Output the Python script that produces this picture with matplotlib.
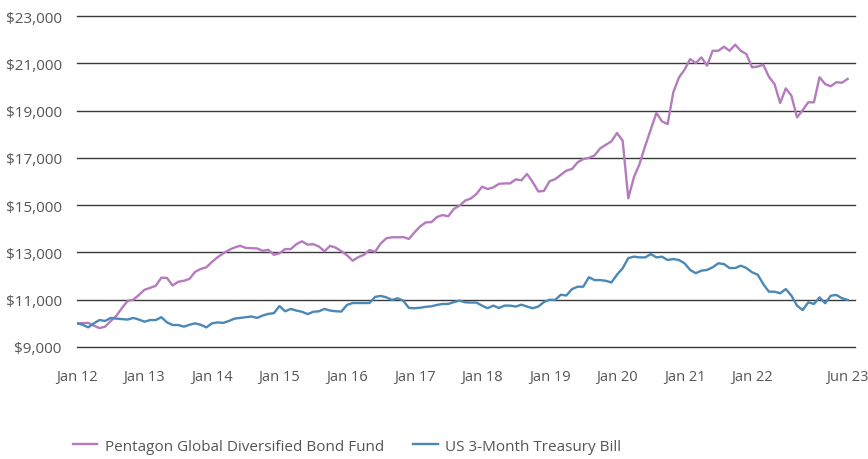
"""Growth of $10,000: Pentagon Global Diversified Bond Fund vs US 3-Month Treasury Bill."""
import numpy as np
import pandas as pd

import matplotlib
matplotlib.use("Agg")
import matplotlib.pyplot as plt  # noqa: E402

plt.rcParams["font.family"] = ["Open Sans", "DejaVu Sans"]

# monthly values, Jan 2012 .. Jun 2023
fund = [
    10000, 10010, 10020, 9900, 9800, 9860, 10100, 10320, 10650, 10950, 11000, 11200,
    11420, 11500, 11590, 11930, 11920, 11600, 11760, 11800, 11880, 12180, 12300, 12370,
    12600, 12800, 12960, 13100, 13210, 13280, 13190, 13180, 13170, 13070, 13110, 12900,
    12960, 13140, 13140, 13350, 13470, 13330, 13350, 13250, 13050, 13280, 13200, 13050,
    12880, 12650, 12800, 12900, 13100, 13030, 13380, 13600, 13640, 13640, 13650, 13570,
    13850, 14100, 14270, 14280, 14500, 14580, 14530, 14840, 14980, 15190, 15280, 15470,
    15780, 15680, 15750, 15900, 15920, 15920, 16090, 16050, 16320, 15980, 15580, 15600,
    16010, 16100, 16280, 16460, 16530, 16810, 16950, 17000, 17100, 17400, 17550, 17700,
    18050, 17730, 15290, 16180, 16740, 17500, 18200, 18900, 18540, 18430, 19770, 20400,
    20730, 21180, 21010, 21250, 20900, 21530, 21530, 21700, 21530, 21790, 21530, 21390,
    20830, 20860, 20940, 20430, 20120, 19320, 19940, 19630, 18710, 19020, 19350, 19350,
    20410, 20120, 20030, 20200, 20180, 20340,
]
tbill = [
    10000, 9940, 9830, 10000, 10140, 10100, 10230, 10200, 10180, 10160, 10230, 10160,
    10070, 10140, 10140, 10260, 10040, 9930, 9930, 9860, 9940, 10000, 9940, 9830,
    10000, 10040, 10020, 10100, 10200, 10230, 10260, 10290, 10230, 10330, 10400, 10430,
    10730, 10510, 10610, 10540, 10490, 10390, 10490, 10510, 10610, 10540, 10510, 10500,
    10780, 10860, 10860, 10860, 10860, 11120, 11160, 11100, 10990, 11060, 10960, 10650,
    10640, 10660, 10700, 10720, 10780, 10820, 10820, 10900, 10960, 10890, 10880, 10880,
    10750, 10640, 10750, 10650, 10750, 10750, 10710, 10790, 10710, 10640, 10710, 10900,
    11000, 10990, 11210, 11180, 11450, 11550, 11550, 11950, 11830, 11830, 11800, 11730,
    12060, 12330, 12760, 12820, 12790, 12790, 12930, 12790, 12820, 12680, 12720, 12680,
    12540, 12260, 12120, 12230, 12260, 12370, 12540, 12510, 12340, 12340, 12440, 12340,
    12160, 12060, 11660, 11340, 11340, 11270, 11450, 11170, 10750, 10560, 10890, 10820,
    11100, 10850, 11170, 11200, 11060, 10990,
]
series_names = ["Pentagon Global Diversified Bond Fund", "US 3-Month Treasury Bill"]
tick_months = ["2012-01", "2013-01", "2014-01", "2015-01", "2016-01", "2017-01",
               "2018-01", "2019-01", "2020-01", "2021-01", "2022-01", "2023-06"]
tick_labels = ["Jan 12", "Jan 13", "Jan 14", "Jan 15", "Jan 16", "Jan 17",
               "Jan 18", "Jan 19", "Jan 20", "Jan 21", "Jan 22", "Jun 23"]
y_ticks = [9000, 11000, 13000, 15000, 17000, 19000, 21000, 23000]

PURPLE = "#b47bbd"
BLUE = "#4a88b8"
TXT = "#555555"
FS = 11

months = pd.period_range("2012-01", periods=len(fund), freq="M")
x = np.arange(len(months))
tick_pos = [months.get_loc(pd.Period(m, freq="M")) for m in tick_months]

fig = plt.figure(figsize=(8.68, 4.60), dpi=100)
ax = fig.add_axes([0.0887, 0.2435, 0.8963, 0.7195])

for yv in y_ticks:
    ax.axhline(yv, color="#3a3a3a", lw=1.0, zorder=1, clip_on=False)
ax.plot(x, fund, color=PURPLE, lw=1.7, label=series_names[0], zorder=3)
ax.plot(x, tbill, color=BLUE, lw=1.7, label=series_names[1], zorder=3)

ax.set_xlim(0, 138.3)
ax.set_ylim(9000, 23000)
ax.set_yticks(y_ticks)
ax.set_yticklabels([f"${v:,.0f}" for v in y_ticks])
ax.set_xticks(tick_pos)
ax.set_xticklabels(tick_labels)
ax.tick_params(axis="y", length=0, colors=TXT, labelsize=FS, pad=11)
ax.tick_params(axis="x", length=0, colors=TXT, labelsize=10.5, pad=16)
for sp in ax.spines.values():
    sp.set_visible(False)

fig.legend(loc="center left", bbox_to_anchor=(0.075, 0.028), ncol=2, frameon=False,
           fontsize=FS, labelcolor=TXT, handlelength=1.6, handletextpad=0.5,
           columnspacing=1.9, borderpad=0.0)

fig.savefig("out.png", dpi=100)
